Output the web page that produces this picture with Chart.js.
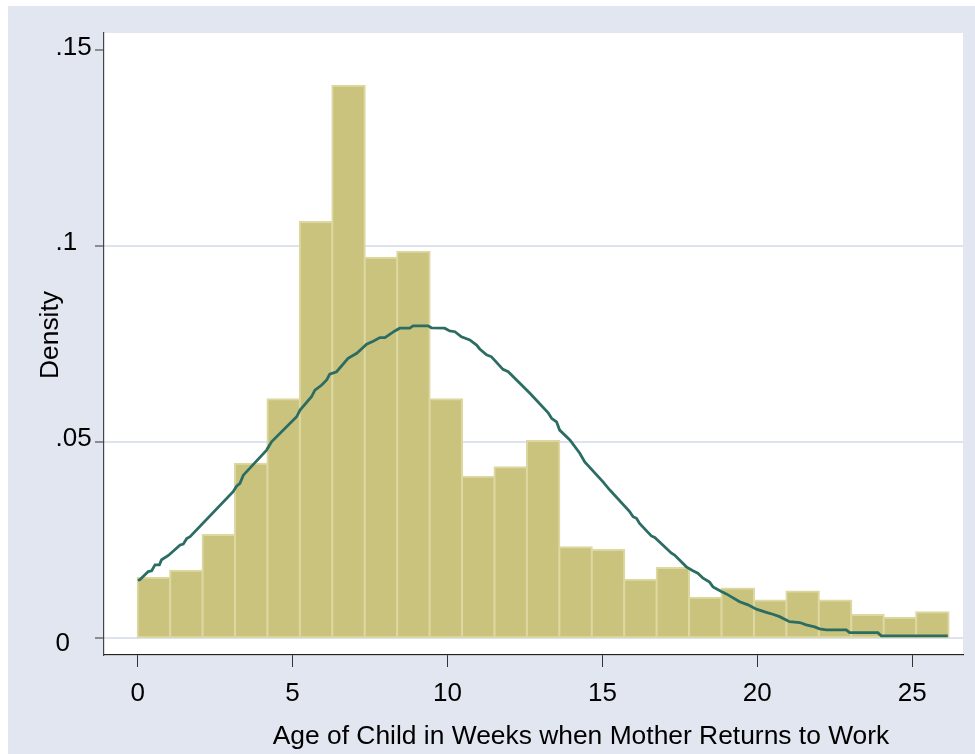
<!DOCTYPE html>
<html><head><meta charset="utf-8">
<script src="https://cdn.jsdelivr.net/npm/chart.js@4.4.1/dist/chart.umd.min.js"></script>
<style>
html,body{margin:0;padding:0;background:#fff;}
#wrap{position:absolute;left:8px;top:6px;width:967px;height:748px;}
canvas{display:block;}
</style></head><body>
<div id="wrap"><canvas id="c" width="967" height="748"></canvas></div>
<script>
// ---- data ----
const binStart = 0;
const binWidth = 1.047;
const densities = [0.0154, 0.0172, 0.0263, 0.0445, 0.0610, 0.1062, 0.1410, 0.0971, 0.0986, 0.0610,
                   0.0412, 0.0436, 0.0503, 0.0232, 0.0225, 0.0149, 0.0179, 0.0103, 0.0127, 0.0096,
                   0.0119, 0.0096, 0.0059, 0.0052, 0.0066];
const curveWeeks = [0.00,0.07,0.34,0.45,0.56,0.70,0.77,0.99,1.37,1.47,1.58,1.69,3.08,3.19,3.30,3.41,4.16,4.32,
  5.13,5.24,5.61,5.72,5.94,6.10,6.20,6.42,6.79,7.07,7.39,7.60,7.82,7.98,8.30,8.46,8.78,8.89,9.37,9.48,9.91,
  10.07,10.24,10.45,10.72,10.94,11.04,11.26,11.42,11.79,11.96,12.66,13.25,13.36,13.52,13.62,13.95,14.27,14.43,
  15.02,15.24,15.88,15.99,16.10,16.20,16.58,16.69,17.23,17.33,17.71,17.92,18.08,18.25,18.46,18.57,18.84,19.00,
  19.43,19.70,19.97,20.29,20.50,20.72,21.04,21.37,21.58,21.85,22.01,22.23,22.87,22.98,23.89,24.00,26.15];
const curveDensity = [0.0148,0.0149,0.0170,0.0172,0.0187,0.0187,0.0200,0.0211,0.0238,0.0240,0.0254,0.0259,0.0374,0.0388,0.0395,0.0416,0.0480,0.0501,
  0.0565,0.0582,0.0616,0.0633,0.0646,0.0659,0.0674,0.0680,0.0714,0.0727,0.0750,0.0758,0.0767,0.0767,0.0784,0.0791,0.0791,0.0797,0.0797,0.0792,0.0791,
  0.0784,0.0782,0.0769,0.0761,0.0748,0.0738,0.0723,0.0718,0.0686,0.0680,0.0625,0.0575,0.0561,0.0552,0.0531,0.0506,0.0472,0.0450,
  0.0399,0.0378,0.0323,0.0310,0.0306,0.0293,0.0261,0.0257,0.0217,0.0212,0.0182,0.0172,0.0166,0.0153,0.0143,0.0131,0.0119,0.0113,
  0.0093,0.0085,0.0074,0.0066,0.0061,0.0055,0.0042,0.0040,0.0034,0.0029,0.0024,0.0021,0.0021,0.0014,0.0014,0.0006,0.0006];
const xTickValues = [0, 5, 10, 15, 20, 25];
const xTickLabels = ['0', '5', '10', '15', '20', '25'];
const yTickValues = [0, 0.05, 0.1, 0.15];
const yTickLabels = ['0', '.05', '.1', '.15'];
const xTitle = 'Age of Child in Weeks when Mother Returns to Work';
const yTitle = 'Density';

// ---- build ----
const FONT = '"Liberation Sans", Arial, Helvetica, sans-serif';
const barData = densities.map((d, i) => ({x: binStart + binWidth * (i + 0.5), y: d}));
const lineData = curveWeeks.map((w, i) => ({x: w, y: curveDensity[i]}));

const bgPlugin = {
  id: 'bg',
  beforeDraw(chart) {
    const {ctx, chartArea: a, width, height} = chart;
    ctx.save();
    ctx.fillStyle = '#e1e6f0';
    ctx.fillRect(0, 0, width, height);
    ctx.fillStyle = '#ffffff';
    ctx.fillRect(a.left, a.top, a.right - a.left, a.bottom - a.top + 1);
    ctx.restore();
  },
  afterDraw(chart) {
    const ctx = chart.ctx;
    ctx.save();
    ctx.fillStyle = '#000';
    ctx.font = '26.4px ' + FONT;
    ctx.textBaseline = 'alphabetic';
    ctx.textAlign = 'center';
    ctx.fillText(xTitle, 573, 738);
    ctx.translate(49.5, 329);
    ctx.rotate(-Math.PI / 2);
    ctx.fillText(yTitle, 0, 0);
    ctx.restore();
  }
};

new Chart(document.getElementById('c'), {
  type: 'bar',
  data: {
    datasets: [
      {
        type: 'line',
        data: lineData,
        borderColor: '#2b6d62',
        borderWidth: 2.8,
        pointRadius: 0,
        tension: 0,
        fill: false,
        order: 0
      },
      {
        type: 'bar',
        data: barData,
        backgroundColor: '#cac37e',
        borderColor: '#ddd8a1',
        borderWidth: 2,
        borderSkipped: false,
        inflateAmount: 1,
        barPercentage: 1,
        categoryPercentage: 1,
        order: 1
      }
    ]
  },
  options: {
    responsive: false,
    animation: false,
    devicePixelRatio: 1,
    layout: {padding: {top: 27, right: 12, left: 47.5, bottom: 0}},
    plugins: {legend: {display: false}, tooltip: {enabled: false}, title: {display: false}},
    scales: {
      x: {
        type: 'linear',
        min: -1.088,
        max: 26.64,
        offset: false,
        afterFit(s) { s.height = 99; },
        afterBuildTicks(s) { s.ticks = xTickValues.map(v => ({value: v})); },
        grid: {offset: false, drawOnChartArea: false, drawTicks: true, tickLength: 12, tickColor: '#333', tickWidth: 1},
        border: {display: true, color: '#222', width: 1.2},
        ticks: {
          autoSkip: false, maxRotation: 0, padding: 11, color: '#000',
          font: {family: FONT, size: 26},
          callback(v) { const i = xTickValues.indexOf(v); return i >= 0 ? xTickLabels[i] : ''; }
        }
      },
      y: {
        type: 'linear',
        min: -0.00429,
        max: 0.15443,
        afterFit(s) { s.width = 48.5; },
        afterBuildTicks(s) { s.ticks = yTickValues.map(v => ({value: v})); },
        grid: {
          drawTicks: true, tickLength: 9, tickColor: '#333', tickWidth: 1, lineWidth: 2,
          color: (c) => (c.tick && c.tick.value === 0.15) ? 'rgba(0,0,0,0)' : '#dde2ee'
        },
        border: {display: true, color: '#444', width: 1.2},
        ticks: {
          autoSkip: false, padding: 2, color: '#000', crossAlign: 'far',
          font: {family: FONT, size: 26, lineHeight: '6px'},
          callback(v) {
            const i = yTickValues.indexOf(v);
            const lab = i >= 0 ? yTickLabels[i] : '';
            return v === 0 ? ['', '', lab] : [lab, ''];
          }
        }
      }
    }
  },
  plugins: [bgPlugin]
});
</script>
</body></html>
